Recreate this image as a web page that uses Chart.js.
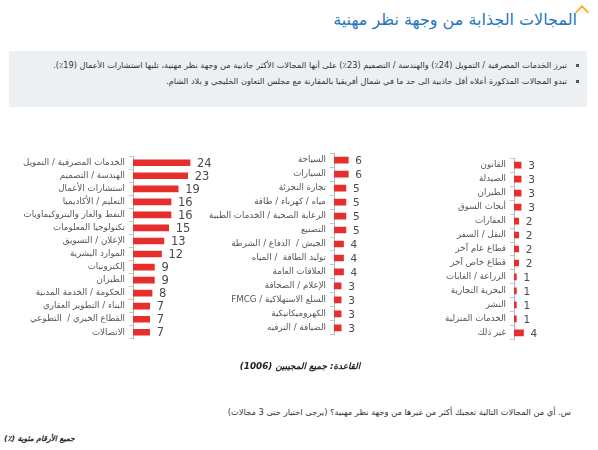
<!DOCTYPE html>
<html>
<head>
<meta charset="utf-8">
<script src="https://cdn.jsdelivr.net/npm/chart.js@4.4.0/dist/chart.umd.min.js"></script>
<style>
  body { margin: 0; width: 598px; height: 450px; background: #fff; overflow: hidden; position: relative;
         font-family: "DejaVu Sans", sans-serif; }
  .abs { position: absolute; }
  #title { right: 21px; top: 10px; color: #1f77c0; font-size: 16px; direction: rtl; white-space: nowrap; }
  #caret { left: 577px; top: 7px; width: 8px; height: 8px; border-top: 2px solid #f4b142; border-left: 2px solid #f4b142; transform: rotate(45deg); }
  #box { left: 9px; top: 51px; width: 578px; height: 56px; background: #edf0f3; }
  #box ul { margin: 0; padding: 0; list-style: none; direction: rtl; }
  #box li { position: relative; font-size: 8.2px; color: #333; padding-right: 20px; white-space: nowrap; line-height: 16px; }
  #box li:before { content: ""; position: absolute; right: 8px; top: 7px; width: 3px; height: 3px; background: #555; }
  canvas { position: absolute; }
  #base { left: 200px; top: 361px; width: 200px; text-align: center; font-size: 8.8px; font-weight: bold; font-style: italic; color: #222; direction: rtl; }
  #question { right: 27px; top: 407px; font-size: 8.3px; color: #333; direction: rtl; white-space: nowrap; }
  #note { left: 4px; top: 434px; font-size: 7.5px; font-weight: bold; font-style: italic; color: #222; direction: rtl; white-space: nowrap; }
</style>
</head>
<body>
<div id="caret" class="abs"></div>
<div id="title" class="abs">المجالات الجذابة من وجهة نظر مهنية</div>
<div id="box" class="abs">
  <ul style="padding-top:6px">
    <li>تبرز الخدمات المصرفية / التمويل (24٪) والهندسة / التصميم (23٪) على أنها المجالات الأكثر جاذبية من وجهة نظر مهنية، تليها استشارات الأعمال (19٪).</li>
    <li>تبدو المجالات المذكورة أعلاه أقل جاذبية الى حد ما في شمال أفريقيا بالمقارنة مع مجلس التعاون الخليجي و بلاد الشام.</li>
  </ul>
</div>

<canvas id="c1" width="215" height="201" style="left:0px; top:147px" dir="rtl"></canvas>
<canvas id="c2" width="190" height="200" style="left:200px; top:144px" dir="rtl"></canvas>
<canvas id="c3" width="198" height="200" style="left:400px; top:149px" dir="rtl"></canvas>

<div id="base" class="abs">القاعدة: جميع المجيبين (1006)</div>
<div id="question" class="abs">س. أي من المجالات التالية تعجبك أكثر من غيرها من وجهة نظر مهنية؟ (يرجى اختيار حتى 3 مجالات)</div>
<div id="note" class="abs">جميع الأرقام مئوية (٪)</div>

<script>
// data (% of respondents)
var fields1 = ["الخدمات المصرفية / التمويل", "الهندسة / التصميم", "استشارات الأعمال", "التعليم / الأكاديميا",
  "النفط والغاز والبتروكيماويات", "تكنولوجيا المعلومات", "الإعلان / التسويق", "الموارد البشرية",
  "إلكترونيات", "الطيران", "الحكومة / الخدمة المدنية", "البناء / التطوير العقاري",
  "القطاع الخيري /  التطوعي", "الاتصالات"];
var values1 = [24, 23, 19, 16, 16, 15, 13, 12, 9, 9, 8, 7, 7, 7];

var fields2 = ["السياحة", "السيارات", "تجارة التجزئة", "مياه / كهرباء / طاقة", "الرعاية الصحية / الخدمات الطبية",
  "التصنيع", "الجيش /  الدفاع / الشرطة", "توليد الطاقة  / المياه", "العلاقات العامة", "الإعلام / الصحافة",
  "السلع الاستهلاكية / FMCG", "الكهروميكانيكية", "الضيافة / الترفيه"];
var values2 = [6, 6, 5, 5, 5, 5, 4, 4, 4, 3, 3, 3, 3];

var fields3 = ["القانون", "الصيدلة", "الطيران", "أبحاث السوق", "العقارات", "النقل / السفر", "قطاع عام آخر",
  "قطاع خاص آخر", "الزراعة / الغابات", "البحرية التجارية", "النشر", "الخدمات المنزلية", "غير ذلك"];
var values3 = [3, 3, 3, 3, 2, 2, 2, 2, 1, 1, 1, 1, 4];

var barColor = "#e62e2d";

// numbers at the end of each bar
var valueLabels = {
  id: "valueLabels",
  afterDatasetsDraw: function(chart, args, opts) {
    var ctx = chart.ctx;
    var meta = chart.getDatasetMeta(0);
    ctx.save();
    ctx.font = opts.size + "px 'DejaVu Sans', sans-serif";
    ctx.fillStyle = "#4a4a4a";
    ctx.textAlign = "left";
    ctx.textBaseline = "middle";
    ctx.direction = "ltr";
    meta.data.forEach(function(bar, i) {
      ctx.fillText(chart.data.datasets[0].data[i], bar.x + 7, bar.y + 1);
    });
    ctx.restore();
  }
};

function makeChart(id, labels, values, axisWidth, max, numSize) {
  return new Chart(document.getElementById(id), {
    type: "bar",
    data: {
      labels: labels,
      datasets: [{ data: values, backgroundColor: barColor, barThickness: 6 }]
    },
    options: {
      indexAxis: "y",
      responsive: false,
      animation: false,
      layout: { padding: 0 },
      scales: {
        x: { display: false, min: 0, max: max },
        y: {
          afterFit: function(scale) { scale.width = axisWidth; },
          grid: { display: true, drawOnChartArea: false, tickLength: 4, color: "#c8c8c8" },
          border: { display: true, color: "#b8b8b8" },
          ticks: { autoSkip: false, padding: 4, color: "#555", font: { size: 8.7, family: "'DejaVu Sans', sans-serif" } }
        }
      },
      plugins: {
        legend: { display: false },
        tooltip: { enabled: false },
        valueLabels: { size: numSize }
      }
    },
    plugins: [valueLabels]
  });
}

makeChart("c1", fields1, values1, 133, 34.5, 11.5);
makeChart("c2", fields2, values2, 134, 23.5, 10.5);
makeChart("c3", fields3, values3, 114, 35.3, 10.5);
</script>
</body>
</html>
